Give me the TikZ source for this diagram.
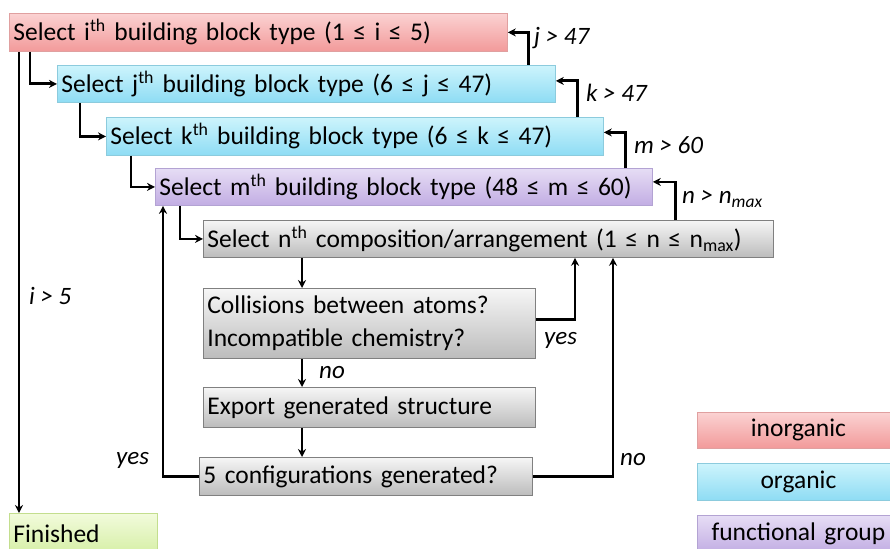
\documentclass[tikz,border=0pt]{standalone}
\usepackage{fontspec}
\setmainfont{Carlito}
\usetikzlibrary{arrows.meta}

\definecolor{inorgtop}{HTML}{FBD2D2}
\definecolor{inorgbot}{HTML}{F29A9A}
\definecolor{inorgline}{HTML}{E0A0A0}
\definecolor{orgtop}{HTML}{CDF4FC}
\definecolor{orgbot}{HTML}{8EDCF4}
\definecolor{orgline}{HTML}{8CCBDD}
\definecolor{fgtop}{HTML}{E6DDF5}
\definecolor{fgbot}{HTML}{C2ADE3}
\definecolor{fgline}{HTML}{B3A3D3}
\definecolor{steptop}{HTML}{F6F6F6}
\definecolor{stepbot}{HTML}{BCBCBC}
\definecolor{stepline}{HTML}{808080}
\definecolor{donetop}{HTML}{F2FBDC}
\definecolor{donebot}{HTML}{D6EFA6}
\definecolor{doneline}{HTML}{C3DE8E}

\begin{document}
\begin{tikzpicture}[x=1pt, y=-1pt,
  every node/.style = {font=\fontsize{25.5}{33}\selectfont, inner sep=0pt},
  blockbox/.style = {shape=rectangle, anchor=north west, align=left,
    inner xsep=4pt, line width=0.8pt},
  inorg/.style = {blockbox, draw=inorgline, top color=inorgtop, bottom color=inorgbot},
  org/.style = {blockbox, draw=orgline, top color=orgtop, bottom color=orgbot},
  fgroup/.style = {blockbox, draw=fgline, top color=fgtop, bottom color=fgbot},
  stepbox/.style = {blockbox, draw=stepline, top color=steptop, bottom color=stepbot},
  donebox/.style = {blockbox, draw=doneline, top color=donetop, bottom color=donebot},
  legend/.style = {align=center},
  cond/.style = {anchor=west, font=\fontsize{25}{28}\selectfont\itshape},
  flow/.style = {line width=2.8pt, -{Stealth[length=8pt,width=8pt]}}]

  \useasboundingbox (0,0) rectangle (890,548);
  \clip (0,0) rectangle (890,548);

  % loop boxes, nested one level per building block
  \node[inorg, minimum width=498, minimum height=38, text width=490] (ibox) at (9,13)
    {Select i\textsuperscript{th} building block type (1 ≤ i ≤ 5)};
  \node[org, minimum width=498, minimum height=37, text width=490] (jbox) at (57,65)
    {Select j\textsuperscript{th} building block type (6 ≤ j ≤ 47)};
  \node[org, minimum width=497, minimum height=38, text width=489] (kbox) at (106,117)
    {Select k\textsuperscript{th} building block type (6 ≤ k ≤ 47)};
  \node[fgroup, minimum width=497, minimum height=37, text width=489] (mbox) at (155,168)
    {Select m\textsuperscript{th} building block type (48 ≤ m ≤ 60)};
  \node[stepbox, minimum width=570, minimum height=37, text width=562] (nbox) at (203,220)
    {Select n\textsuperscript{th} composition/arrangement (1 ≤ n ≤ n\textsubscript{max})};

  % checks and output
  \node[stepbox, minimum width=332, minimum height=70, text width=324] (coll) at (203,288)
    {Collisions between atoms?\\Incompatible chemistry?};
  \node[stepbox, minimum width=332, minimum height=40, text width=324] (export) at (203,387)
    {Export generated structure};
  \node[stepbox, minimum width=333, minimum height=38, text width=325] (cfg) at (199,457)
    {5 configurations generated?};
  \node[donebox, minimum width=148, minimum height=40, text width=140] (fin) at (9,513)
    {Finished};

  % legend
  \node[inorg, legend, minimum width=202, minimum height=36, text width=194] (leginorg) at (697,412) {inorganic};
  \node[org, legend, minimum width=202, minimum height=37, text width=194] (legorg) at (697,463) {organic};
  \node[fgroup, legend, minimum width=202, minimum height=37, text width=194] (legfg) at (697,515) {functional group};

  % going down into the loops
  \draw[flow] ([xshift=10pt]ibox.south west) -- ([xshift=10pt]fin.north west);
  \draw[flow] ([xshift=21pt]ibox.south west) |- (jbox.west);
  \draw[flow] ([xshift=23pt]jbox.south west) |- (kbox.west);
  \draw[flow] ([xshift=25pt]kbox.south west) |- (mbox.west);
  \draw[flow] ([xshift=25pt]mbox.south west) |- (nbox.west);

  % going back up when a counter runs out
  \draw[flow] ([xshift=-27pt]jbox.north east) |- (ibox.east);
  \draw[flow] ([xshift=-26pt]kbox.north east) |- ([yshift=3pt]jbox.east);
  \draw[flow] ([xshift=-27pt]mbox.north east) |- ([yshift=4pt]kbox.east);
  \draw[flow] ([xshift=-98pt]nbox.north east) |- ([yshift=5pt]mbox.east);

  % inner loop
  \draw[flow] ([xshift=99pt]nbox.south west) -- ([xshift=99pt]coll.north west);
  \draw[flow] ([yshift=4pt]coll.east) -| ([xshift=372pt]nbox.south west);
  \draw[flow] ([xshift=99pt]coll.south west) -- ([xshift=99pt]export.north west);
  \draw[flow] ([xshift=99pt]export.south west) -- ([xshift=103pt]cfg.north west);
  \draw[flow] (cfg.west) -| ([xshift=8pt]mbox.south west);
  \draw[flow] (cfg.east) -| ([xshift=410pt]nbox.south west);

  % conditions
  \node[cond] (cj) at (534,38) {j > 47};
  \node[cond] (ck) at (586,93) {k > 47};
  \node[cond] (cm) at (634,145) {m > 60};
  \node[cond] (cn) at (682,199) {n > n\textsubscript{max}};
  \node[cond] (ci) at (29,296) {i > 5};
  \node[cond] (cyes) at (544,340) {yes};
  \node[cond] (cno) at (319,373) {no};
  \node[cond] (cfgyes) at (116,460) {yes};
  \node[cond] (cfgno) at (620,460) {no};

\end{tikzpicture}
\end{document}
